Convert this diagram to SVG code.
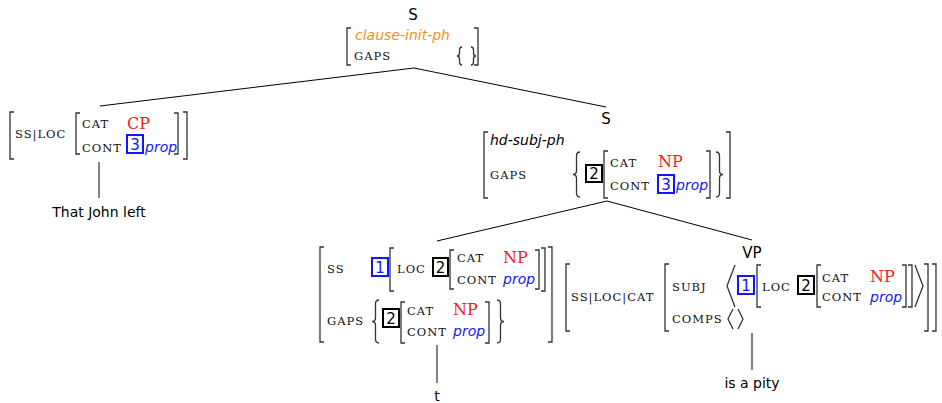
<svg xmlns="http://www.w3.org/2000/svg" width="942" height="403" viewBox="0 0 942 403">
  <style>
    .sc { font-family: "DejaVu Serif", "Liberation Serif", serif; font-size: 11.5px; letter-spacing: 1px; fill: #111; }
    .lbl { font-family: "DejaVu Sans", "Liberation Sans", sans-serif; font-size: 15px; fill: #000; text-anchor: middle; }
    .leaf { font-size: 14px; }
    .ty { font-family: "DejaVu Sans", "Liberation Sans", sans-serif; font-style: italic; font-size: 14px; }
    .orange { fill: #f7901e; }
    .prop { fill: #1414ff; }
    .np { font-family: "DejaVu Serif", "Liberation Serif", serif; font-size: 16px; fill: #f22020; }
    .num { font-family: "DejaVu Sans", "Liberation Sans", sans-serif; font-size: 15px; text-anchor: middle; fill: #000; }
    .numb { fill: #1414ff; }
    .bx { fill: none; stroke: #000; stroke-width: 2; }
    .bxb { fill: none; stroke: #1414ff; stroke-width: 2; }
    .br { fill: none; stroke: #333; stroke-width: 1.3; }
    .edge { fill: none; stroke: #000; stroke-width: 1; }
  </style>

  <!-- tree edges -->
  <g id="connectors">
    <path class="edge" d="M414,68 L100,106"/>
    <path class="edge" d="M414,68 L606,107"/>
    <path class="edge" d="M99,162 L99,198"/>
    <path class="edge" d="M607,201 L437,241"/>
    <path class="edge" d="M607,201 L752,240"/>
    <path class="edge" d="M437,345 L437,383"/>
    <path class="edge" d="M752,333 L752,370"/>
  </g>

  <!-- root: S, clause-init-ph -->
  <g id="root">
    <text class="lbl" x="413" y="20">S</text>
    <path class="br" d="M351,28 H347 V65 H351"/>
    <text class="ty orange" x="355" y="40">clause-init-ph</text>
    <text class="sc" x="354" y="60">GAPS</text>
    <path class="br" d="M462,47 Q459.5,47 459.5,50 L459.5,53 Q459.5,56 457,56 Q459.5,56 459.5,59 L459.5,62 Q459.5,65 462,65"/>
    <path class="br" d="M471,47 Q473.5,47 473.5,50 L473.5,53 Q473.5,56 476,56 Q473.5,56 473.5,59 L473.5,62 Q473.5,65 471,65"/>
    <path class="br" d="M474,28 H478 V65 H474"/>
  </g>

  <!-- subject clause: CP -->
  <g id="subject">
    <path class="br" d="M14,112 H10 V159 H14"/>
    <text class="sc" x="15" y="138">SS|LOC</text>
    <path class="br" d="M80,113 H76 V154 H80"/>
    <text class="sc" x="82" y="128">CAT</text>
    <text class="np" x="127" y="129">CP</text>
    <text class="sc" x="82" y="152">CONT</text>
    <rect class="bxb" x="127" y="135" width="16" height="18"/>
    <text class="num numb" x="135" y="150">3</text>
    <text class="ty prop" x="145" y="152">prop</text>
    <path class="br" d="M174,113 H178 V154 H174"/>
    <path class="br" d="M183,112 H187 V159 H183"/>
  </g>
  <g id="leaf-that-john-left">
    <text class="lbl leaf" x="99" y="217">That John left</text>
  </g>

  <!-- S: hd-subj-ph -->
  <g id="hd-subj">
    <text class="lbl" x="606" y="124">S</text>
    <path class="br" d="M488,132 H484 V198 H488"/>
    <text class="ty" x="490" y="145">hd-subj-ph</text>
    <text class="sc" x="490" y="179">GAPS</text>
    <path class="br" d="M580,152 Q576.5,152 576.5,156 L576.5,170.5 Q576.5,174.5 573,174.5 Q576.5,174.5 576.5,178.5 L576.5,193 Q576.5,197 580,197"/>
    <rect class="bx" x="586" y="165" width="16" height="17"/>
    <text class="num" x="594" y="179">2</text>
    <path class="br" d="M608,151 H604 V198 H608"/>
    <text class="sc" x="610" y="167">CAT</text>
    <text class="np" x="658" y="167">NP</text>
    <text class="sc" x="610" y="190">CONT</text>
    <rect class="bxb" x="658" y="175" width="16" height="18"/>
    <text class="num numb" x="666" y="190">3</text>
    <text class="ty prop" x="676" y="190">prop</text>
    <path class="br" d="M706,151 H710 V198 H706"/>
    <path class="br" d="M716,152 Q719.5,152 719.5,156 L719.5,170.5 Q719.5,174.5 723,174.5 Q719.5,174.5 719.5,178.5 L719.5,193 Q719.5,197 716,197"/>
    <path class="br" d="M726,132 H730 V198 H726"/>
  </g>

  <!-- trace daughter -->
  <g id="trace">
    <path class="br" d="M324,247 H320 V342 H324"/>
    <text class="sc" x="327" y="273">SS</text>
    <rect class="bxb" x="372" y="258" width="16" height="18"/>
    <text class="num numb" x="380" y="273">1</text>
    <path class="br" d="M394,248 H390 V291 H394"/>
    <text class="sc" x="397" y="273">LOC</text>
    <rect class="bx" x="433" y="258" width="15" height="18"/>
    <text class="num" x="440.5" y="273">2</text>
    <path class="br" d="M454,250 H450 V289 H454"/>
    <text class="sc" x="457" y="262">CAT</text>
    <text class="np" x="503" y="263">NP</text>
    <text class="sc" x="457" y="284">CONT</text>
    <text class="ty prop" x="503" y="284">prop</text>
    <path class="br" d="M535,250 H539 V289 H535"/>
    <path class="br" d="M541,248 H545 V291 H541"/>
    <text class="sc" x="327" y="325">GAPS</text>
    <path class="br" d="M379,300 Q375.5,300 375.5,304 L375.5,317.5 Q375.5,321.5 372,321.5 Q375.5,321.5 375.5,325.5 L375.5,339 Q375.5,343 379,343"/>
    <rect class="bx" x="383" y="309" width="16" height="18"/>
    <text class="num" x="391" y="324">2</text>
    <path class="br" d="M405,302 H401 V343 H405"/>
    <text class="sc" x="407" y="315">CAT</text>
    <text class="np" x="453" y="315">NP</text>
    <text class="sc" x="407" y="336">CONT</text>
    <text class="ty prop" x="453" y="336">prop</text>
    <path class="br" d="M485,302 H489 V343 H485"/>
    <path class="br" d="M497,300 Q500.5,300 500.5,304 L500.5,317.5 Q500.5,321.5 504,321.5 Q500.5,321.5 500.5,325.5 L500.5,339 Q500.5,343 497,343"/>
    <path class="br" d="M548,247 H552 V342 H548"/>
  </g>
  <g id="leaf-t">
    <text class="lbl leaf" x="437" y="401">t</text>
  </g>

  <!-- VP daughter -->
  <g id="vp">
    <text class="lbl" x="752" y="258">VP</text>
    <path class="br" d="M570,264 H566 V331 H570"/>
    <text class="sc" x="571" y="301">SS|LOC|CAT</text>
    <path class="br" d="M669,264 H665 V331 H669"/>
    <text class="sc" x="672" y="291">SUBJ</text>
    <path class="br" d="M735,265 L727,286 L735,307"/>
    <rect class="bxb" x="738" y="276" width="16" height="18"/>
    <text class="num numb" x="746" y="291">1</text>
    <path class="br" d="M761,265 H757 V307 H761"/>
    <text class="sc" x="762" y="291">LOC</text>
    <rect class="bx" x="798" y="276" width="16" height="18"/>
    <text class="num" x="806" y="291">2</text>
    <path class="br" d="M821,265 H817 V307 H821"/>
    <text class="sc" x="822" y="282">CAT</text>
    <text class="np" x="870" y="282">NP</text>
    <text class="sc" x="822" y="301">CONT</text>
    <text class="ty prop" x="870" y="302">prop</text>
    <path class="br" d="M902,265 H906 V307 H902"/>
    <path class="br" d="M908,265 H912 V307 H908"/>
    <path class="br" d="M915,265 L923,286 L915,307"/>
    <path class="br" d="M924,264 H928 V331 H924"/>
    <path class="br" d="M932,264 H936 V331 H932"/>
    <text class="sc" x="672" y="323">COMPS</text>
    <path class="br" d="M733,309 L728,319 L733,329"/>
    <path class="br" d="M738,309 L743,319 L738,329"/>
  </g>
  <g id="leaf-is-a-pity">
    <text class="lbl leaf" x="752" y="388">is a pity</text>
  </g>
</svg>
